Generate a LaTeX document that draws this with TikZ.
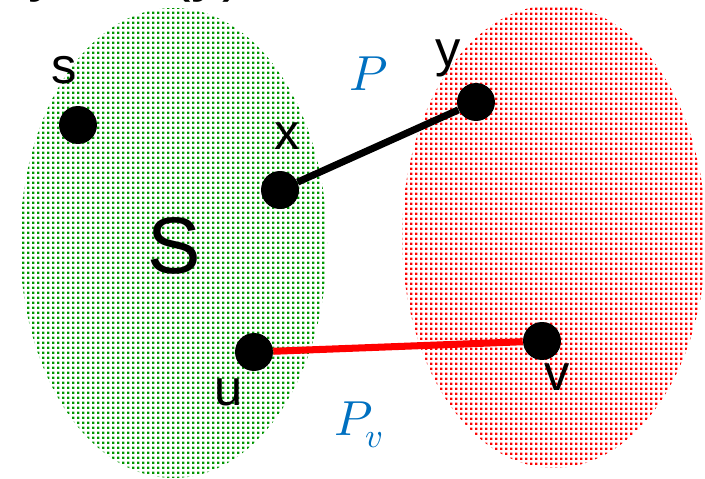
\documentclass[tikz,border=0pt]{standalone}
\usepackage{unicode-math}
\setmainfont{Liberation Sans}
\setmathfont{Latin Modern Math}
\usetikzlibrary{patterns}
\definecolor{verde}{RGB}{0,150,0}
\definecolor{blu}{RGB}{0,112,192}
\pgfdeclarepatternformonly{punti}{\pgfpointorigin}{\pgfpoint{3.2pt}{3.2pt}}{\pgfpoint{3.2pt}{3.2pt}}{%
  \pgfpathrectangle{\pgfpointorigin}{\pgfpoint{1.8pt}{1.8pt}}\pgfusepath{fill}}
\begin{document}
\begin{tikzpicture}[x=0.025cm,y=-0.025cm,
    punto/.style={circle,fill=black,inner sep=0pt,minimum size=27pt},
    etic/.style={inner sep=0pt,font=\fontsize{36}{40}\selectfont},
    lato/.style={line width=5pt}]
    \useasboundingbox (0,0) rectangle (705,479);
    \clip (0,0) rectangle (705,479);
    % --- gli insiemi S e V-S ---
    \fill[pattern=punti,pattern color=verde] (173.5,243) ellipse [x radius=153.5, y radius=235];
    \fill[pattern=punti,pattern color=red] (554,236.5) ellipse [x radius=152, y radius=231.5];
    \node[etic,anchor=base west,font=\fontsize{44}{48}\selectfont] (titolo) at (28,-10) {y = P(y)};
    \node[etic,font=\fontsize{57}{60}\selectfont] (S) at (174,246) {S};
    % --- vertici ---
    \foreach \n/\px/\py in {s/78/125, x/280/190, y/476/102, u/254/352, v/542/341}
      \node[punto] (\n) at (\px,\py) {};
    \foreach \n/\px/\py in {s/64/70, x/287/136, y/448/58, u/229/392, v/557/377}
      \node[etic] (l\n) at (\px,\py) {\n};
    % --- archi ---
    \draw[lato] (x) -- (y);
    \draw[lato,red] (u) -- (v);
    \node[etic,text=blu,font=\fontsize{35}{40}\selectfont] (P) at (369,74) {$P$};
    \node[etic,text=blu,font=\fontsize{35}{40}\selectfont] (Pv) at (359,425) {$P_v$};
\end{tikzpicture}
\end{document}
